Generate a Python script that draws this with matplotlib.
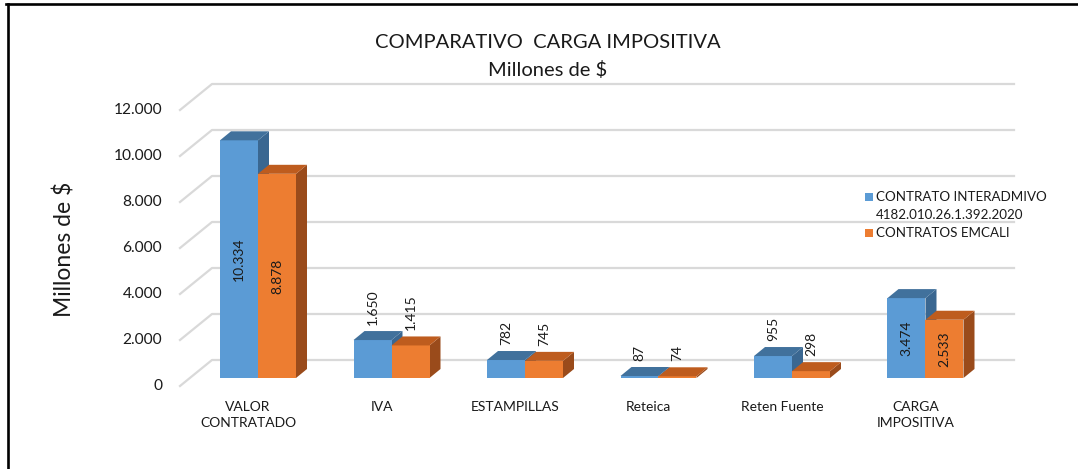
import matplotlib.pyplot as plt
from matplotlib.patches import Polygon, Rectangle
from matplotlib.lines import Line2D

plt.rcParams['font.family'] = ['Lato', 'DejaVu Sans']

categories = ['VALOR\nCONTRATADO', 'IVA', 'ESTAMPILLAS', 'Reteica', 'Reten Fuente', 'CARGA\nIMPOSITIVA']
interadmivo = [10334, 1650, 782, 87, 955, 3474]
emcali = [8878, 1415, 745, 74, 298, 2533]
series_names = ['CONTRATO INTERADMIVO\n4182.010.26.1.392.2020', 'CONTRATOS EMCALI']
y_ticks = [0, 2000, 4000, 6000, 8000, 10000, 12000]

W, H = 1078, 469
XS = 133.5   # px per category
YS = 0.023   # px per unit of value
X0_PX, Y0_PX = 258, 378   # first category centre / zero line (bar plane)
TXT = '#1a1a1a'

blue = ('#5B9BD5', '#41719C', '#3A6791')
orange = ('#ED7D31', '#BE5C1E', '#9A4B1B')


def dx(p):
    return p / XS


def dy(p):
    return p / YS


def fmt(v):
    return f'{v:,}'.replace(',', '.')


fig = plt.figure(figsize=(W / 100, H / 100), dpi=100)
xlim = (-0.6, 5.7)
ylim = (0, 12000)
left = X0_PX + xlim[0] * XS
right = X0_PX + xlim[1] * XS
top = Y0_PX - ylim[1] * YS
ax = fig.add_axes([left / W, (H - Y0_PX) / H, (right - left) / W, (Y0_PX - top) / H])
ax.set_xlim(*xlim)
ax.set_ylim(*ylim)
ax.axis('off')

# walls / gridlines (back wall + diagonal on the side wall)
fx, fy = dx(-10), dy(-8)
bx, by = dx(22), dy(18)
xa, xb = dx(190 - X0_PX), dx(992 - X0_PX)
for t in y_ticks:
    ax.plot([xa + fx, xa + bx, xb + bx], [t + fy, t + by, t + by],
            color='#D9D9D9', lw=1.6, clip_on=False, zorder=1)
    ax.text(xa + fx + dx(-18), t + fy, fmt(t), ha='right', va='center',
            fontsize=11.2, color=TXT)

# pseudo 3d bars
w = dx(38)
ddx, ddy = dx(11), dy(9)


def bar3d(x0, v, cols):
    front, topc, side = cols
    ax.add_patch(Polygon([(x0 + w, 0), (x0 + w + ddx, ddy), (x0 + w + ddx, v + ddy), (x0 + w, v)],
                         closed=True, fc=side, lw=0, zorder=3, clip_on=False))
    ax.bar(x0, v, w, align='edge', color=front, lw=0, zorder=3)
    ax.add_patch(Polygon([(x0, v), (x0 + w, v), (x0 + w + ddx, v + ddy), (x0 + ddx, v + ddy)],
                         closed=True, fc=topc, lw=0, zorder=3, clip_on=False))


for i in range(len(categories)):
    for j, (vals, cols) in enumerate([(interadmivo, blue), (emcali, orange)]):
        x0 = i - w + j * w
        v = vals[i]
        bar3d(x0, v, cols)
        xc = x0 + w / 2
        if v > 2000:
            ax.text(xc, v / 2, fmt(v), rotation=90, ha='center', va='center',
                    fontsize=10, color=TXT, zorder=5)
        else:
            ax.text(xc, v + ddy + dy(6), fmt(v), rotation=90, ha='center', va='bottom',
                    fontsize=10, color=TXT, zorder=5)
    ax.text(i + fx, dy(-23), categories[i], ha='center', va='top', fontsize=10,
            color=TXT, linespacing=1.4)

# titles
fig.text(548 / W, 1 - 42 / H, 'COMPARATIVO  CARGA IMPOSITIVA', ha='center', va='center',
         fontsize=14.5, color=TXT)
fig.text(548 / W, 1 - 70 / H, 'Millones de $', ha='center', va='center',
         fontsize=14.5, color=TXT)
fig.text(65 / W, 1 - 249 / H, 'Millones de $', rotation=90, ha='center', va='center',
         fontsize=16.5, color=TXT)

# legend
leg_rows = [197, 233]
for name, row, cols in zip(series_names, leg_rows, [blue, orange]):
    fig.patches.append(Rectangle((865 / W, 1 - (row + 4) / H), 8 / W, 8 / H,
                                 transform=fig.transFigure, fc=cols[0], lw=0))
leg_lines = series_names[0].split('\n') + [series_names[1]]
for txt, row in zip(leg_lines, [197, 215, 233]):
    fig.text(876 / W, 1 - row / H, txt, ha='left', va='center', fontsize=9.6, color=TXT)

# outer frame (top and left only are visible)
fig.add_artist(Line2D([6 / W, 1], [1 - 4 / H, 1 - 4 / H], transform=fig.transFigure,
                      color='black', lw=1.9))
fig.add_artist(Line2D([7.5 / W, 7.5 / W], [0, 1 - 4 / H], transform=fig.transFigure,
                      color='black', lw=1.9))

fig.savefig('out.png', dpi=100)
